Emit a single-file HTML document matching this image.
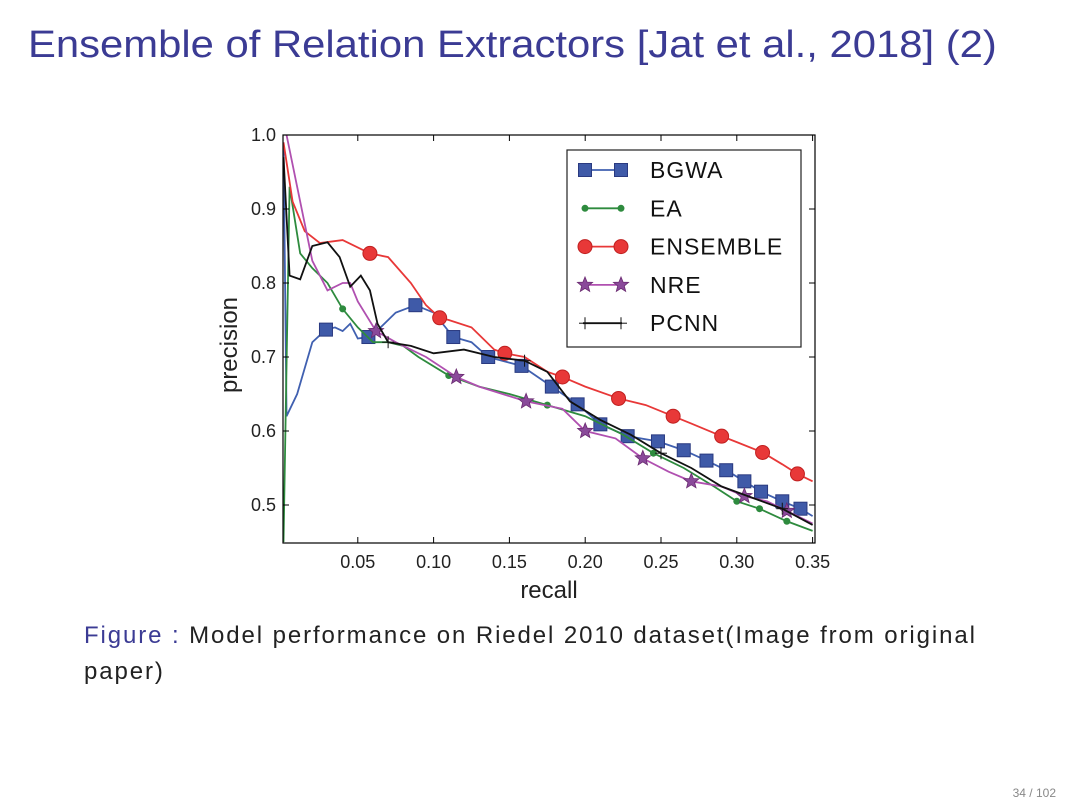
<!DOCTYPE html>
<html><head><meta charset="utf-8"><style>
body{margin:0;width:1080px;height:810px;background:#fff;overflow:hidden;font-family:"Liberation Sans",sans-serif;}
.title{position:absolute;left:28px;top:24px;font-size:38px;color:#3b3b94;white-space:nowrap;transform:scaleX(1.1);transform-origin:left top;}
.cap{position:absolute;left:84px;top:618px;font-size:24px;line-height:36px;color:#222;width:990px;white-space:nowrap;letter-spacing:1.9px;}
.pg{position:absolute;right:24px;top:786px;font-size:12px;color:#888;}
</style></head><body>
<div class="title">Ensemble of Relation Extractors [Jat et al., 2018] (2)</div>
<svg id="chart" width="1080" height="810" style="position:absolute;left:0;top:0"></svg>
<div class="cap"><span style="color:#3b3b94">Figure :</span> Model performance on Riedel 2010 dataset(Image from original<br>paper)</div>
<div class="pg">34 / 102</div>
<script>
const xTicks=[0.05,0.10,0.15,0.20,0.25,0.30,0.35];
const yTicks=[0.5,0.6,0.7,0.8,0.9,1.0];
const seriesNames=["BGWA","EA","ENSEMBLE","NRE","PCNN"];
const bgwa=[[0.001,0.99],[0.003,0.62],[0.01,0.65],[0.02,0.72],[0.029,0.737],[0.035,0.74],[0.04,0.735],[0.045,0.745],[0.05,0.725],[0.057,0.727],[0.065,0.74],[0.075,0.76],[0.088,0.77],[0.1,0.76],[0.113,0.727],[0.125,0.72],[0.136,0.7],[0.158,0.688],[0.178,0.66],[0.195,0.636],[0.21,0.609],[0.228,0.593],[0.248,0.586],[0.265,0.574],[0.28,0.56],[0.293,0.547],[0.305,0.532],[0.316,0.518],[0.33,0.505],[0.342,0.495],[0.35,0.485]];
const bgwaMarks=[4,9,12,14,16,17,18,19,20,21,22,23,24,25,26,27,28,29];
const ea=[[0.001,0.45],[0.005,0.93],[0.012,0.84],[0.02,0.82],[0.03,0.80],[0.04,0.765],[0.05,0.74],[0.06,0.72],[0.07,0.72],[0.08,0.715],[0.09,0.70],[0.11,0.675],[0.13,0.66],[0.15,0.65],[0.175,0.635],[0.2,0.62],[0.225,0.595],[0.245,0.57],[0.265,0.55],[0.285,0.525],[0.3,0.505],[0.315,0.495],[0.333,0.478],[0.35,0.465]];
const eaMarks=[5,11,14,17,20,21,22];
const ens=[[0.001,0.99],[0.007,0.91],[0.015,0.87],[0.025,0.854],[0.04,0.858],[0.058,0.84],[0.07,0.835],[0.085,0.8],[0.095,0.77],[0.104,0.753],[0.11,0.75],[0.125,0.74],[0.14,0.71],[0.147,0.705],[0.16,0.70],[0.175,0.68],[0.185,0.673],[0.2,0.66],[0.222,0.644],[0.24,0.635],[0.258,0.62],[0.27,0.61],[0.29,0.593],[0.3,0.585],[0.317,0.571],[0.33,0.555],[0.34,0.542],[0.35,0.532]];
const ensMarks=[5,9,13,16,18,20,22,24,26];
const nre=[[0.003,1.0],[0.01,0.93],[0.02,0.83],[0.03,0.79],[0.04,0.80],[0.045,0.80],[0.05,0.775],[0.062,0.735],[0.075,0.72],[0.095,0.70],[0.115,0.673],[0.13,0.66],[0.161,0.64],[0.185,0.63],[0.2,0.60],[0.22,0.59],[0.238,0.563],[0.255,0.545],[0.27,0.532],[0.29,0.525],[0.305,0.512],[0.32,0.505],[0.333,0.492],[0.35,0.475]];
const nreMarks=[7,10,12,14,16,18,20,22];
const pcnn=[[0.001,0.97],[0.005,0.81],[0.012,0.805],[0.02,0.85],[0.03,0.855],[0.038,0.835],[0.045,0.795],[0.052,0.81],[0.058,0.79],[0.063,0.745],[0.07,0.72],[0.085,0.715],[0.1,0.705],[0.12,0.71],[0.14,0.70],[0.16,0.695],[0.175,0.68],[0.19,0.64],[0.21,0.615],[0.23,0.595],[0.25,0.57],[0.27,0.55],[0.29,0.525],[0.31,0.51],[0.33,0.495],[0.35,0.473]];
const pcnnMarks=[10,15,20,24];

const NS="http://www.w3.org/2000/svg";
const svg=document.getElementById('chart');
const X0=283,X1=815,Y0=135,Y1=543;
const xs=r=>282+r*1516;
const ys=p=>135+(1-p)*740;
function el(t,a,parent){const e=document.createElementNS(NS,t);for(const k in a)e.setAttribute(k,a[k]);(parent||svg).appendChild(e);return e;}
const clip=el('clipPath',{id:'pc'});el('rect',{x:X0,y:Y0,width:X1-X0,height:Y1-Y0},clip);
const plot=el('g',{'clip-path':'url(#pc)'});


xTicks.forEach(v=>{const x=xs(v);
 el('line',{x1:x,y1:Y1,x2:x,y2:Y1-6,stroke:'#000'});el('line',{x1:x,y1:Y0,x2:x,y2:Y0+6,stroke:'#000'});
 const t=el('text',{x:x,y:568,'font-size':18,'text-anchor':'middle',fill:'#222'});t.textContent=v.toFixed(2);
 
 });
yTicks.forEach(v=>{const y=ys(v);
 el('line',{x1:X0,y1:y,x2:X0+6,y2:y,stroke:'#000'});el('line',{x1:X1,y1:y,x2:X1-6,y2:y,stroke:'#000'});
 const t=el('text',{x:276,y:y+6,'font-size':18,'text-anchor':'end',fill:'#222'});t.textContent=v.toFixed(1);
 
 });
const xt=el('text',{x:549,y:598,'font-size':24,'text-anchor':'middle',fill:'#222'});xt.textContent='recall';


const yt=el('text',{x:237,y:345,'font-size':24,'text-anchor':'middle',fill:'#222',transform:'rotate(-90 237 345)'});yt.textContent='precision';



function marker(g,type,x,y,c){
 if(type==='sq')el('rect',{x:x-6.5,y:y-6.5,width:13,height:13,fill:c,stroke:'#2a3a80','stroke-width':1},g);
 else if(type==='dot')el('circle',{cx:x,cy:y,r:3.5,fill:c},g);
 else if(type==='circ')el('circle',{cx:x,cy:y,r:7,fill:c,stroke:'#c02020','stroke-width':1},g);
 else if(type==='star'){let p=[];for(let i=0;i<10;i++){const r=i%2?3.5:8,a=-Math.PI/2+i*Math.PI/5;p.push((x+r*Math.cos(a)).toFixed(1)+','+(y+r*Math.sin(a)).toFixed(1));}el('polygon',{points:p.join(' '),fill:c,stroke:'#6a2a70','stroke-width':0.8},g);}
 else if(type==='plus'){el('line',{x1:x-6,y1:y,x2:x+6,y2:y,stroke:c},g);el('line',{x1:x,y1:y-6,x2:x,y2:y+6,stroke:c},g);}
}
const defs=[[bgwa,bgwaMarks,'#4060b0','sq','#3f5aa8','series-bgwa'],[ea,eaMarks,'#2e8b3e','dot','#2e8b3e','series-ea'],[ens,ensMarks,'#e83838','circ','#e83838','series-ensemble'],[nre,nreMarks,'#b050b0','star','#8a4a9a','series-nre'],[pcnn,pcnnMarks,'#111','plus','#111','series-pcnn']];
defs.forEach(([d,m,c,t,mc,name])=>{
 const g=el('g',{},plot);
 
 
 el('polyline',{points:d.map(p=>xs(p[0])+','+ys(p[1])).join(' '),fill:'none',stroke:c,'stroke-width':1.8},g);
 m.forEach(i=>marker(g,t,xs(d[i][0]),ys(d[i][1]),mc));
});
el('rect',{x:X0,y:Y0,width:X1-X0,height:Y1-Y0,fill:'none',stroke:'#000','stroke-width':1.2});
const lg=el('g',{});


el('rect',{x:567,y:150,width:234,height:197,fill:'#fff',stroke:'#222','stroke-width':1.2},lg);
seriesNames.forEach((n,i)=>{const y=170+i*38.3;const d=defs[i];
 const e=el('g',{},lg);
 
 
 el('line',{x1:583,y1:y,x2:622,y2:y,stroke:d[2],'stroke-width':1.8},e);
 marker(e,d[3],585,y,d[4]);marker(e,d[3],621,y,d[4]);
 const t=el('text',{x:650,y:y+8,'font-size':23,'letter-spacing':1,fill:'#111'},e);t.textContent=n;});
</script>
</body></html>
